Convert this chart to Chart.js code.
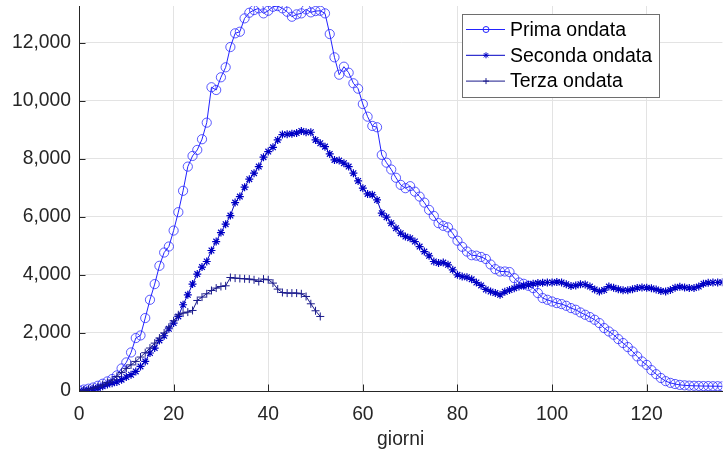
<!DOCTYPE html>
<html>
<head>
<meta charset="utf-8">
<script src="https://cdn.jsdelivr.net/npm/chart.js@4.4.0/dist/chart.umd.min.js"></script>
<style>
  body { margin: 0; background: #fff; }
  #wrap { width: 724px; height: 451px; overflow: hidden; }
</style>
</head>
<body>
<div id="wrap"><canvas id="ondate" width="728" height="451"></canvas></div>
<script>
// valori, un valore per giorno (giorno 0, 1, 2, ...)
var primaOndata = [
  20, 50, 80, 120, 180, 250, 330, 413, 537, 778,
  985, 1329, 1825, 1915, 2514, 3144, 3684, 4315, 4773, 4980,
  5530, 6164, 6900, 7734, 8102, 8309, 8678, 9249, 10470, 10375,
  10813, 11157, 11856, 12328, 12383, 12844, 13037, 13130, 13189, 13016,
  13106, 13244, 13268, 13189, 13072, 12900, 12982, 13016, 13154, 13051,
  13095, 13106, 13016, 12304, 11501, 10902, 11178, 10971, 10606, 10420,
  9890, 9456, 9136, 9091, 8137, 7870, 7635, 7350, 7104, 6990,
  7060, 6870, 6701, 6494, 6243, 6036, 5785, 5692, 5640, 5430,
  5180, 4970, 4807, 4680, 4665, 4620, 4550, 4360, 4200, 4119,
  4119, 4100, 3891, 3740, 3695, 3626, 3547, 3375, 3202, 3144,
  3085, 3030, 2996, 2937, 2858, 2800, 2707, 2627, 2548, 2455,
  2341, 2169, 2052, 1939, 1790, 1653, 1515, 1364, 1192, 1019,
  900, 720, 580, 448, 340, 280, 240, 210, 195, 185,
  180, 175, 170, 170, 165, 165, 160
];

var secondaOndata = [
  0, 20, 40, 70, 110, 160, 220, 270, 310, 389,
  482, 561, 675, 847, 1019, 1309, 1481, 1742, 1904, 2145,
  2341, 2569, 2972, 3316, 3684, 4029, 4270, 4463, 4842, 5151,
  5461, 5750, 6047, 6494, 6701, 7025, 7300, 7507, 7734, 8058,
  8251, 8400, 8654, 8840, 8850, 8870, 8890, 8963, 8918, 8918,
  8654, 8540, 8423, 8171, 7965, 7941, 7851, 7734, 7507, 7242,
  6990, 6794, 6760, 6587, 6130, 5992, 5785, 5613, 5441, 5324,
  5269, 5152, 4979, 4807, 4659, 4463, 4408, 4428, 4349, 4177,
  4005, 3946, 3920, 3850, 3740, 3640, 3500, 3430, 3375, 3316,
  3420, 3480, 3540, 3600, 3630, 3660, 3700, 3720, 3730, 3740,
  3740, 3760, 3740, 3680, 3620, 3640, 3680, 3670, 3600, 3500,
  3430, 3480, 3600, 3560, 3510, 3470, 3470, 3510, 3550, 3570,
  3560, 3540, 3500, 3450, 3430, 3480, 3560, 3590, 3570, 3550,
  3550, 3600, 3700, 3730, 3740, 3740, 3750
];

var terzaOndata = [
  0, 30, 60, 100, 150, 210, 290, 380, 500, 640,
  780, 900, 1019, 1170, 1320, 1481, 1650, 1825, 2000, 2200,
  2420, 2627, 2686, 2720, 2776, 3120, 3237, 3351, 3464, 3547,
  3602, 3626, 3912, 3890, 3878, 3867, 3857, 3833, 3774, 3857,
  3833, 3719, 3512, 3395, 3375, 3375, 3375, 3351, 3258, 3006,
  2765, 2569
];

var nomiSerie = ["Prima ondata", "Seconda ondata", "Terza ondata"];
var xTicks = [0, 20, 40, 60, 80, 100, 120];
var yTicks = [0, 2000, 4000, 6000, 8000, 10000, 12000];
var xMax = 136;
var yMax = 13270;

var FONT = "'Liberation Sans', Arial, Helvetica, sans-serif";
var colPrima = "#2323ff";
var colSeconda = "#0000c4";
var colTerza = "#1a1a8c";

function toPoints(values) {
  return values.map(function(v, i) { return { x: i, y: v }; });
}

// MATLAB-style tick marks pointing inward
var inwardTicks = {
  id: "inwardTicks",
  afterDatasetsDraw: function(chart) {
    var ctx = chart.ctx;
    var xs = chart.scales.x, ys = chart.scales.y;
    var area = chart.chartArea;
    ctx.save();
    ctx.strokeStyle = "#262626";
    ctx.lineWidth = 1;
    ctx.beginPath();
    xTicks.forEach(function(t) {
      var px = Math.round(xs.getPixelForValue(t)) + 0.5;
      ctx.moveTo(px, area.bottom);
      ctx.lineTo(px, area.bottom - 6.5);
    });
    yTicks.forEach(function(t) {
      var py = Math.round(ys.getPixelForValue(t)) + 0.5;
      ctx.moveTo(area.left, py);
      ctx.lineTo(area.left + 6.5, py);
    });
    ctx.stroke();
    ctx.restore();
  }
};

function drawMarker(ctx, style, x, y, r) {
  ctx.beginPath();
  if (style === "circle") {
    ctx.arc(x, y, r, 0, Math.PI * 2);
  } else if (style === "star") {
    for (var a = 0; a < 4; a++) {
      var ang = a * Math.PI / 4;
      ctx.moveTo(x - r * Math.cos(ang), y - r * Math.sin(ang));
      ctx.lineTo(x + r * Math.cos(ang), y + r * Math.sin(ang));
    }
  } else {
    ctx.moveTo(x - r, y); ctx.lineTo(x + r, y);
    ctx.moveTo(x, y - r); ctx.lineTo(x, y + r);
  }
  ctx.stroke();
}

// legend box in the upper right, drawn by hand
var boxLegend = {
  id: "boxLegend",
  afterDraw: function(chart) {
    var ctx = chart.ctx;
    var left = 462, top = 14, w = 197, h = 83;
    ctx.save();
    ctx.fillStyle = "#fff";
    ctx.fillRect(left, top, w, h);
    ctx.strokeStyle = "#6e6e6e";
    ctx.lineWidth = 1;
    ctx.strokeRect(left + 0.5, top + 0.5, w, h);
    ctx.font = "19.5px " + FONT;
    ctx.textBaseline = "middle";
    ctx.textAlign = "left";
    chart.data.datasets.forEach(function(ds, i) {
      var y = top + 15.5 + i * 25.8;
      ctx.strokeStyle = ds.borderColor;
      ctx.lineWidth = 1;
      ctx.beginPath();
      ctx.moveTo(466, y);
      ctx.lineTo(505, y);
      ctx.stroke();
      drawMarker(ctx, ds.pointStyle, 486, y, 3);
      ctx.fillStyle = "#000";
      ctx.fillText(ds.label, 510, y + 1);
    });
    ctx.restore();
  }
};

var ctx = document.getElementById("ondate").getContext("2d");
var chart = new Chart(ctx, {
  type: "line",
  data: {
    datasets: [{
      label: nomiSerie[0],
      data: toPoints(primaOndata),
      borderColor: colPrima,
      borderWidth: 1,
      pointStyle: "circle",
      pointRadius: 4.6,
      pointBorderWidth: 1,
      pointBorderColor: "rgba(35,35,255,0.75)",
      pointBackgroundColor: "rgba(0,0,0,0)",
      order: 3
    }, {
      label: nomiSerie[1],
      data: toPoints(secondaOndata),
      borderColor: colSeconda,
      borderWidth: 1,
      pointStyle: "star",
      pointRadius: 4,
      pointBorderWidth: 1.2,
      pointBorderColor: colSeconda,
      pointBackgroundColor: colSeconda,
      order: 2
    }, {
      label: nomiSerie[2],
      data: toPoints(terzaOndata),
      borderColor: colTerza,
      borderWidth: 1,
      pointStyle: "cross",
      pointRadius: 4,
      pointBorderWidth: 1,
      pointBorderColor: colTerza,
      pointBackgroundColor: colTerza,
      order: 1
    }]
  },
  options: {
    responsive: false,
    animation: false,
    locale: "en-US",
    layout: { padding: { top: 6, right: 0, left: 0, bottom: 0 } },
    plugins: {
      legend: { display: false },
      tooltip: { enabled: false }
    },
    elements: { line: { tension: 0 } },
    scales: {
      x: {
        type: "linear",
        min: 0,
        max: xMax,
        afterFit: function(scale) {
          scale.height = 60;
          scale.paddingLeft = 0;
          scale.paddingRight = 0;
        },
        afterBuildTicks: function(scale) {
          scale.ticks = xTicks.map(function(v) { return { value: v }; });
        },
        ticks: {
          padding: 12,
          color: "#262626",
          font: { family: FONT, size: 19.3 },
          maxRotation: 0
        },
        grid: { color: "#e3e3e3", drawTicks: false },
        border: { color: "#262626", width: 1 },
        title: {
          display: true,
          text: "giorni",
          color: "#262626",
          font: { family: FONT, size: 19.3 },
          padding: { top: 0, bottom: 0 }
        }
      },
      y: {
        min: 0,
        max: yMax,
        afterFit: function(scale) {
          scale.width = 79;
          scale.paddingTop = 0;
          scale.paddingBottom = 0;
        },
        afterBuildTicks: function(scale) {
          scale.ticks = yTicks.map(function(v) { return { value: v }; });
        },
        ticks: {
          padding: 8,
          color: "#262626",
          font: { family: FONT, size: 19.3 }
        },
        grid: { color: "#e3e3e3", drawTicks: false },
        border: { color: "#262626", width: 1 }
      }
    }
  },
  plugins: [inwardTicks, boxLegend]
});
</script>
</body>
</html>
